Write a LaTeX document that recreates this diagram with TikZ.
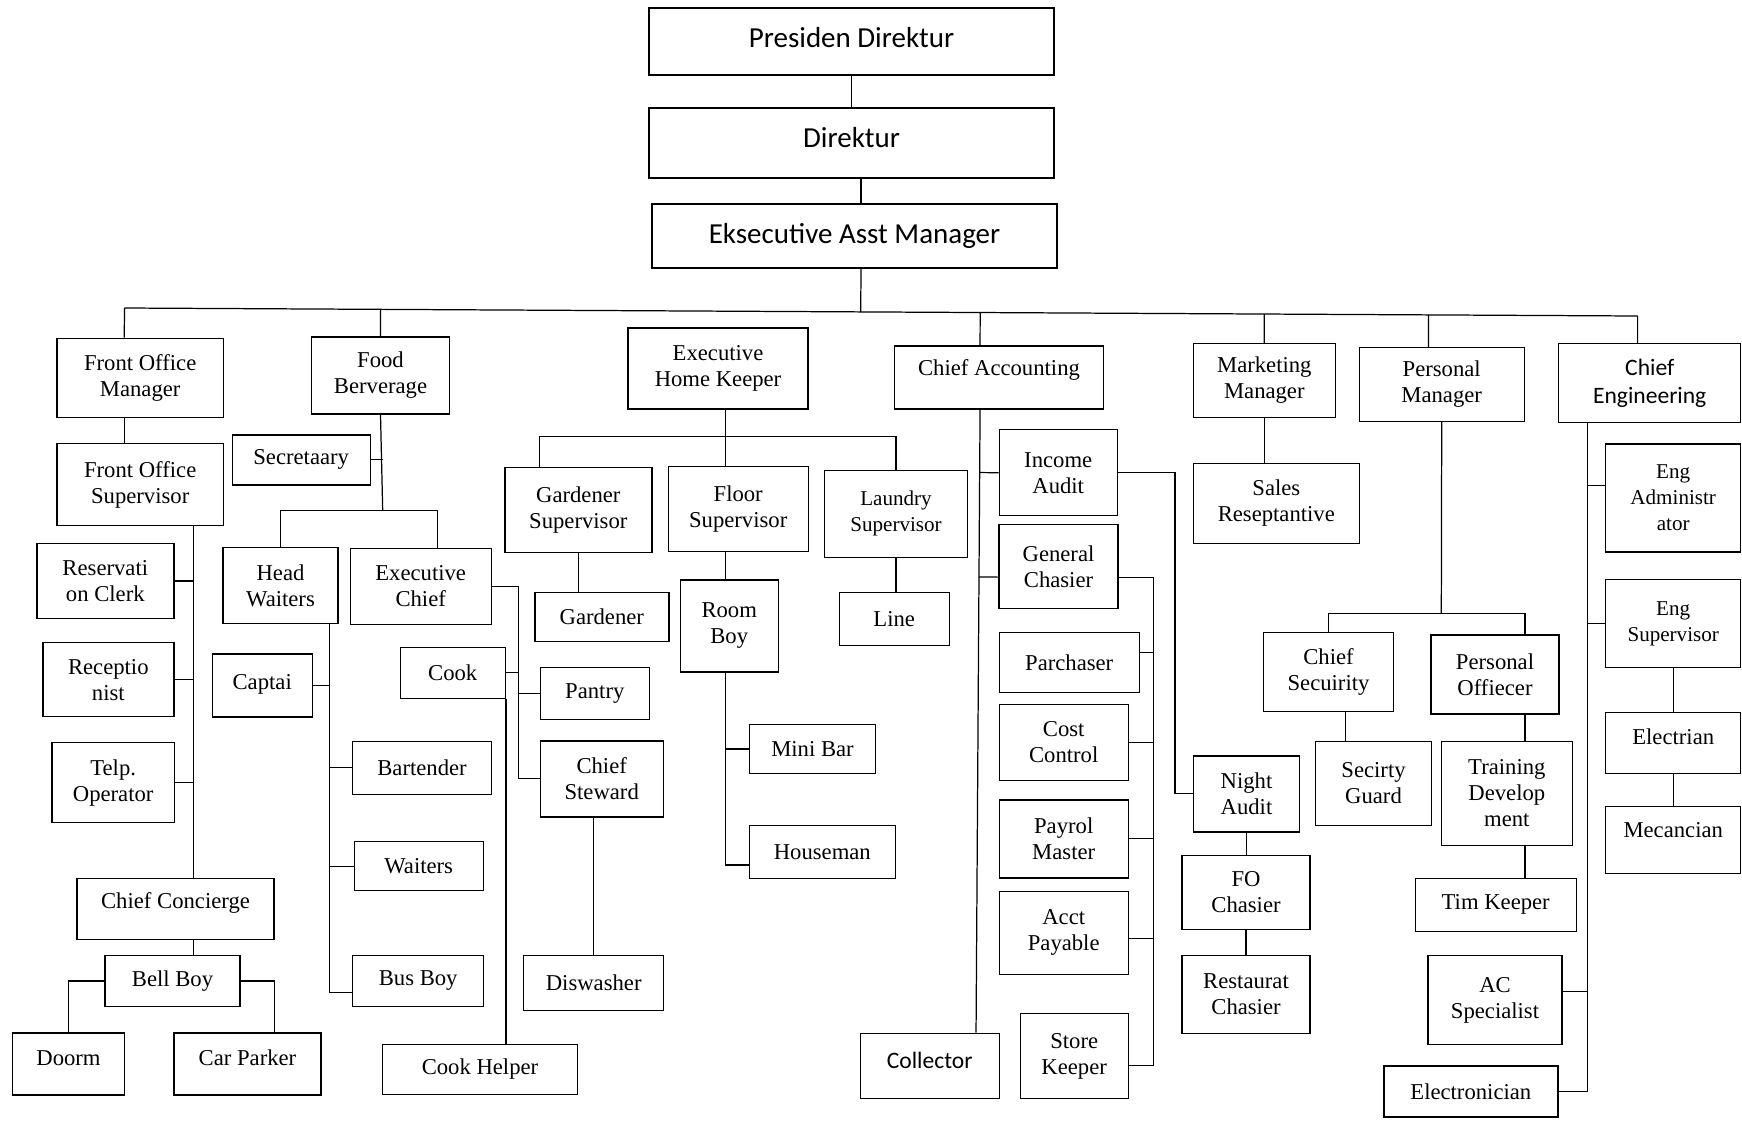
\documentclass[tikz,border=0pt]{standalone}
\usepackage{fontspec}
\setmainfont{Liberation Serif}
\newfontfamily\carlito{Carlito}
\usetikzlibrary{calc}

\begin{document}
\begin{tikzpicture}[x=0.2mm,y=-0.2mm,line width=0.7pt,
  box/.style={draw,line width=0.8pt,align=center,inner sep=1pt,font=\fontsize{12.9}{14.8}\selectfont},
  sm/.style={font=\fontsize{12}{14.8}\selectfont},
  sans/.style={font=\carlito\fontsize{13.4}{15.8}\selectfont},
  big/.style={font=\carlito\fontsize{16.5}{19}\selectfont},
  sz/.style 2 args={minimum width=#1*0.2mm,minimum height=#2*0.2mm},
  hi/.style={text depth=#1}]
\useasboundingbox (0,0) rectangle (1742,1120);

\node[box,big,sz={405}{67},hi=4.6pt] (pd) at (851.5,41.5) {Presiden Direktur};
\node[box,big,sz={405}{70},hi=6pt] (dir) at (851.5,143) {Direktur};
\node[box,big,sz={405}{64}] (eam) at (854.5,236) {Eksecutive Asst Manager};

% front office
\node[box,sz={166}{79}] (fom) at (140.2,377.8) {Front Office\\Manager};
\node[box,sz={166}{82}] (fos) at (140.2,484.5) {Front Office\\Supervisor};
\node[box,sz={137}{75}] (rc) at (105.3,581) {Reservati\\on Clerk};
\node[box,sz={131}{74}] (rec) at (108.3,679.7) {Receptio\\nist};
\node[box,sz={122}{80}] (tel) at (113.2,782.7) {Telp.\\Operator};
\node[box,sz={197}{61},hi=9.6pt] (cc) at (175.5,908.7) {Chief Concierge};
\node[box,sz={135}{51}] (bb) at (172.5,981) {Bell Boy};
\node[box,sz={112}{62},hi=6.8pt] (dm) at (68.5,1063.8) {Doorm};
\node[box,sz={147}{62},hi=6.8pt] (cp) at (247.5,1063.8) {Car Parker};

% food and beverage
\node[box,sz={138}{77}] (fb) at (380.5,375.3) {Food\\Berverage};
\node[box,sz={138}{50}] (sec) at (301.2,459.8) {Secretaary};
\node[box,sz={115}{76}] (hw) at (280.5,585.5) {Head\\Waiters};
\node[box,sz={141}{76}] (ec) at (420.7,586.3) {Executive\\Chief};
\node[box,sz={100}{63},hi=4pt] (cap) at (262.2,685.3) {Captai};
\node[box,sz={139}{53}] (bar) at (422,767.7) {Bartender};
\node[box,sz={129}{49}] (wai) at (418.7,866.2) {Waiters};
\node[box,sz={131}{51}] (busb) at (418.2,981) {Bus Boy};
\node[box,sz={105}{51}] (cook) at (452.7,672.8) {Cook};
\node[box,sz={109}{52}] (pan) at (594.8,693.5) {Pantry};
\node[box,sz={123}{76}] (cs) at (601.7,778.8) {Chief\\Steward};
\node[box,sz={140}{55}] (dw) at (593.7,983.2) {Diswasher};
\node[box,sz={195}{50}] (ch) at (480,1069.3) {Cook Helper};

% housekeeping
\node[box,sz={180}{81}] (ehk) at (718,368.3) {Executive\\Home Keeper};
\node[box,sz={147}{85}] (gs) at (578.3,510) {Gardener\\Supervisor};
\node[box,sz={140}{85}] (fs) at (738.2,509.2) {Floor\\Supervisor};
\node[box,sm,sz={143}{87}] (ls) at (896,513.7) {Laundry\\Supervisor};
\node[box,sz={134}{49}] (gar) at (601.8,616.8) {Gardener};
\node[box,sz={98}{92}] (rb) at (729.2,625.8) {Room\\Boy};
\node[box,sz={110}{53}] (lnd) at (894.2,618.8) {Line};
\node[box,sz={126}{49}] (mb) at (812.5,749) {Mini Bar};
\node[box,sz={146}{53}] (hm) at (822.3,852) {Houseman};

% accounting
\node[box,sz={209}{63},hi=10.8pt] (ca) at (999,377.3) {Chief Accounting};
\node[box,sz={118}{86}] (ia) at (1058.2,472.7) {Income\\Audit};
\node[box,sz={119}{84}] (gc) at (1058.5,566.5) {General\\Chasier};
\node[box,sz={140}{60}] (pur) at (1069.2,662.5) {Parchaser};
\node[box,sz={129}{76}] (cost) at (1063.7,742.2) {Cost\\Control};
\node[box,sz={129}{78}] (pay) at (1063.7,838.8) {Payrol\\Master};
\node[box,sz={129}{83}] (acct) at (1063.7,932.7) {Acct\\Payable};
\node[box,sz={108}{85}] (sk) at (1074.2,1056) {Store\\Keeper};
\node[box,sans,sz={139}{65},hi=6.8pt] (col) at (929.7,1065.8) {Collector};
\node[box,sz={106}{76}] (na) at (1246.5,793.8) {Night\\Audit};
\node[box,sz={128}{74}] (foc) at (1246,892.2) {FO\\Chasier};
\node[box,sz={128}{78}] (rch) at (1246,994.5) {Restaurat\\Chasier};

% marketing, personal
\node[box,sz={142}{74}] (mm) at (1264.3,380.5) {Marketing\\Manager};
\node[box,sz={166}{80}] (sr) at (1276.3,503.2) {Sales\\Reseptantive};
\node[box,sz={165}{74}] (pm) at (1441.7,384.5) {Personal\\Manager};
\node[box,sz={130}{79}] (csec) at (1328.5,672.2) {Chief\\Secuirity};
\node[box,sz={128}{79}] (po) at (1495,674.5) {Personal\\Offiecer};
\node[box,sz={116}{84}] (sg) at (1373.5,783.2) {Secirty\\Guard};
\node[box,sz={131}{104}] (td) at (1506.8,793.2) {Training\\Develop\\ment};
\node[box,sz={161}{53}] (tk) at (1495.7,904.8) {Tim Keeper};
\node[box,sz={134}{89}] (ac) at (1495,1000) {AC\\Specialist};
\node[box,sz={174}{51}] (elc) at (1470.8,1091.3) {Electronician};

% engineering
\node[box,sans,sz={182}{79}] (ce) at (1649.7,383) {Chief\\Engineering};
\node[box,sm,sz={135}{108}] (ea) at (1673.2,497.8) {Eng\\Administr\\ator};
\node[box,sm,sz={135}{88}] (es) at (1673.2,623.5) {Eng\\Supervisor};
\node[box,sz={135}{61},hi=6.8pt] (el) at (1673.2,742.7) {Electrian};
\node[box,sz={135}{67},hi=11.4pt] (mec) at (1673.2,839.7) {Mecancian};

\coordinate (busL) at (124.3,308);
\coordinate (busR) at (1637.7,316);
\coordinate (eamX) at ($(eam.south west)!.516!(eam.south east)$);
\coordinate (fomX) at ($(fom.north west)!.405!(fom.north east)$);
\coordinate (caT) at ($(ca.north west)!.41!(ca.north east)$);
\coordinate (caS) at ($(ca.south west)!.41!(ca.south east)$);
\coordinate (colT) at ($(col.north west)!.83!(col.north east)$);
\coordinate (pmT) at ($(pm.north west)!.42!(pm.north east)$);
\coordinate (ceT) at ($(ce.north west)!.434!(ce.north east)$);
\coordinate (ceS) at ($(ce.south west)!.16!(ce.south east)$);
\coordinate (foS) at ($(fos.south west)!.82!(fos.south east)$);
\coordinate (cpT) at ($(cp.north west)!.68!(cp.north east)$);
\coordinate (fbB) at (382.7,510.7);
\coordinate (ecT) at ($(ec.north west)!.62!(ec.north east)$);
\coordinate (hwS) at ($(hw.south west)!.92!(hw.south east)$);
\coordinate (ecS) at ($(ec.east)!.56!(pan.west)$);
\coordinate (hkB) at (725.7,436.7);
\coordinate (gsT) at ($(gs.north west)!.24!(gs.north east)$);
\coordinate (iaX) at (1175,800);
\coordinate (gcX) at (1153.3,580);
\coordinate (pmB) at (1441.3,613.3);
\coordinate (pdX) at (pm.south east);
\coordinate (sgX) at ($(csec.south west)!.63!(csec.south east)$);

\draw (pd) -- (dir);
\draw (dir.south -| eamX) -- (eamX |- eam.north);
\draw (eamX) -- ($(busL)!(eamX)!(busR)$);
\draw (busL) -- (busR);
\foreach \p in {fomX,fb.north,caT,mm.north,pmT,ceT}
  \draw (\p) -- ($(busL)!(\p)!(busR)$);

\draw (fom.south -| fomX) -- (fomX |- fos.north);
\draw (foS) -- (foS |- cc.north);
\foreach \n in {rc,rec,tel}
  \draw (\n.east) -- (\n.east -| foS);
\draw (foS |- cc.south) -- (foS |- bb.north);
\draw (bb.west) -| (dm.north);
\draw (bb.east) -| (cpT);

\draw (fb.south) -- (fbB);
\draw (sec.east) -- (sec.east -| fbB);
\draw (hw.north) |- (fbB) -| (ecT);
\draw (hwS) |- (busb.190);
\draw (cap.east) -- (cap.east -| hwS);
\foreach \n in {bar,wai}
  \draw (\n.west) -- (\n.west -| hwS);
\draw (ec.east) -| (ecS |- cs.west) -- (cs.west);
\draw (cook.east) -- (cook.east -| ecS);
\draw (pan.west) -- (pan.west -| ecS);
\draw (cook.south east) -- (cook.south east |- ch.north);
\draw (cs.south -| dw.north) -- (dw.north);

\draw (hkB |- ehk.south) -- (hkB);
\draw (gsT) |- (hkB) -| (ls.north);
\draw (hkB) -- (hkB |- fs.north);
\draw (gs.south) -- (gs.south |- gar.north);
\draw (hkB |- fs.south) -- (hkB |- rb.north);
\draw (hkB |- rb.south) |- (hm.190);
\draw (mb.west) -- (mb.west -| hkB);
\draw (ls.south) -- (ls.south |- lnd.north);

\draw (caS) -- (colT);
\draw (ia.west) -- ($(caS)!(ia.west)!(colT)$);
\draw (gc.190) -- ($(caS)!(gc.190)!(colT)$);
\draw (ia.east) -| (iaX |- na.west) -- (na.west);
\draw (gc.350) -| (gcX |- sk.350) -- (sk.350);
\foreach \n/\a in {pur/8,cost/0,pay/0,acct/355}
  \draw (\n.\a) -- (\n.\a -| gcX);
\draw (na.south) -- (na.south |- foc.north);
\draw (foc.south) -- (foc.south |- rch.north);

\draw (mm.south) -- (mm.south |- sr.north);
\draw (pm.south) -- (pmB);
\draw (csec.north) |- (pmB) -| (pdX |- po.north);
\draw (sgX) -- (sgX |- sg.north);
\draw (pdX |- po.south) -- (pdX |- td.north);
\draw (pdX |- td.south) -- (pdX |- tk.north);

\draw (ceS) |- (elc.east);
\draw (ea.170) -- (ea.170 -| ceS);
\draw (es.west) -- (es.west -| ceS);
\draw (ac.7) -- (ac.7 -| ceS);
\draw (es.south) -- (es.south |- el.north);
\draw (el.south) -- (el.south |- mec.north);
\end{tikzpicture}
\end{document}
